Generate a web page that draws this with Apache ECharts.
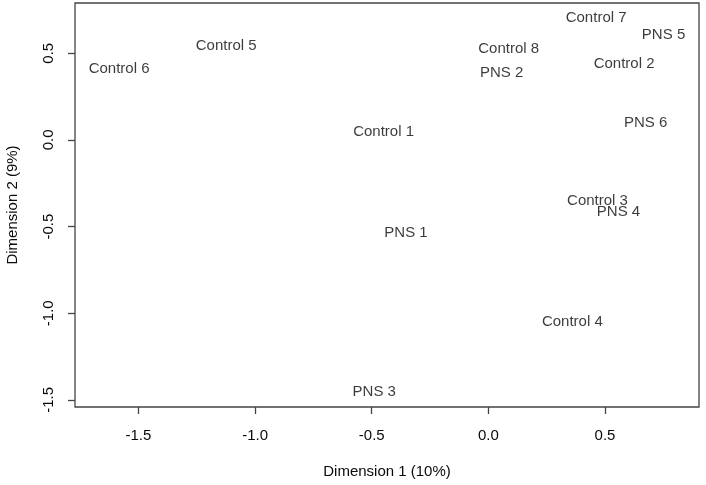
<!DOCTYPE html>
<html>
<head>
<meta charset="utf-8">
<script src="https://cdn.jsdelivr.net/npm/echarts@6/dist/echarts.min.js"></script>
<style>
html,body{margin:0;padding:0;background:#fff;}
#chart{width:706px;height:485px;}
</style>
</head>
<body>
<div id="chart"></div>
<script>
var sampleNames = ["Control 1","Control 2","Control 3","Control 4","Control 5","Control 6","Control 7","Control 8",
                   "PNS 1","PNS 2","PNS 3","PNS 4","PNS 5","PNS 6"];
var dim1 = [-0.449, 0.582, 0.468, 0.360, -1.124, -1.583, 0.462, 0.087,
            -0.353, 0.057, -0.489, 0.558, 0.751, 0.674];
var dim2 = [0.044, 0.439, -0.354, -1.050, 0.540, 0.411, 0.704, 0.525,
            -0.537, 0.387, -1.451, -0.415, 0.604, 0.098];
var xTicks = [-1.5, -1.0, -0.5, 0.0, 0.5];
var yTicks = [-1.5, -1.0, -0.5, 0.0, 0.5];
var xTitle = "Dimension 1 (10%)";
var yTitle = "Dimension 2 (9%)";

var points = sampleNames.map(function(n, i){ return [dim1[i], dim2[i], n]; });
var font = "'Liberation Sans', Arial, sans-serif";

var chart = echarts.init(document.getElementById('chart'), null, {renderer: 'canvas'});
chart.setOption({
  animation: false,
  backgroundColor: '#ffffff',
  grid: {left: 75, right: 7, top: 3, bottom: 78, containLabel: false, outerBoundsMode: 'none',
         show: true, borderColor: '#444', borderWidth: 1.3, backgroundColor: 'transparent'},
  xAxis: {
    type: 'value', min: -1.772, max: 0.903,
    name: xTitle, nameLocation: 'middle', nameGap: 57,
    nameTextStyle: {color: '#0a0a0a', fontSize: 15, fontFamily: font},
    axisLine: {show: false, onZero: false},
    splitLine: {show: false},
    axisTick: {show: true, inside: false, length: 7, customValues: xTicks, lineStyle: {color: '#444', width: 1.3}},
    axisLabel: {show: true, margin: 21, customValues: xTicks, color: '#0a0a0a', fontSize: 15, fontFamily: font,
                formatter: function(v){ return v.toFixed(1); }}
  },
  yAxis: {
    type: 'value', min: -1.541, max: 0.790,
    name: yTitle, nameLocation: 'middle', nameGap: 55, nameRotate: 90,
    nameTextStyle: {color: '#0a0a0a', fontSize: 15, fontFamily: font},
    axisLine: {show: false, onZero: false},
    splitLine: {show: false},
    axisTick: {show: true, inside: false, length: 7, customValues: yTicks, lineStyle: {color: '#444', width: 1.3}},
    axisLabel: {show: true, margin: 19, rotate: 90, customValues: yTicks, color: '#0a0a0a', fontSize: 15, fontFamily: font,
                formatter: function(v){ return v.toFixed(1); }}
  },
  series: [{
    type: 'scatter',
    data: points,
    symbol: 'circle',
    symbolSize: 1,
    itemStyle: {color: 'rgba(0,0,0,0)'},
    label: {
      show: true, position: 'inside', offset: [0, 1.5], color: '#0a0a0a', fontSize: 15, fontFamily: font,
      formatter: function(p){ return p.value[2]; }
    },
    labelLayout: {hideOverlap: false},
    emphasis: {disabled: true}
  }]
});
</script>
</body>
</html>
